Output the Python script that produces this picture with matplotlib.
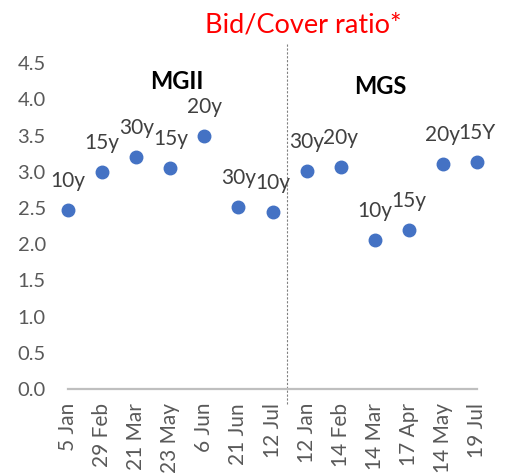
import matplotlib.pyplot as plt
import numpy as np

# auction dates, MGII first then MGS
dates = ['5 Jan', '29 Feb', '21 Mar', '23 May', '6 Jun', '21 Jun', '12 Jul',
         '12 Jan', '14 Feb', '14 Mar', '17 Apr', '14 May', '19 Jul']
bid_cover = [2.47, 3.00, 3.21, 3.05, 3.49, 2.52, 2.44,
             3.01, 3.07, 2.06, 2.19, 3.11, 3.13]
tenors = ['10y', '15y', '30y', '15y', '20y', '30y', '10y',
          '30y', '20y', '10y', '15y', '20y', '15Y']
yticks = [0.0, 0.5, 1.0, 1.5, 2.0, 2.5, 3.0, 3.5, 4.0, 4.5]

plt.rcParams['font.family'] = ['Lato', 'DejaVu Sans']

fig = plt.figure(figsize=(5.08, 4.75), dpi=100)
ax = fig.add_axes([0.134, 0.181, 0.805, 0.686])

x = np.arange(len(dates))
ax.plot(x, bid_cover, 'o', color='#4472C4', ms=9, clip_on=False, zorder=3)

for xi, yi, t in zip(x, bid_cover, tenors):
    ax.annotate(t, (xi, yi), xytext=(0, 29), textcoords='offset pixels',
                ha='center', va='center', fontsize=15, color='#404040',
                annotation_clip=False)

# divider between the two programmes
ax.plot([6.43, 6.43], [-0.2, 4.78], color='#808080', lw=0.8, ls=(0, (2, 1.5)),
        clip_on=False)

ax.text(3.2, 4.25, 'MGII', ha='center', va='center', fontsize=17,
        fontweight='bold', color='black')
ax.text(9.15, 4.18, 'MGS', ha='center', va='center', fontsize=17,
        fontweight='bold', color='black')
fig.text(0.597, 0.948, 'Bid/Cover ratio*', ha='center', va='center',
         fontsize=19.5, color='#FF0000')

ax.set_xlim(0, 12)
ax.set_ylim(0, 4.5)
ax.set_yticks(yticks)
ax.set_yticklabels([f'{v:.1f}' for v in yticks])
ax.set_xticks(x)
ax.set_xticklabels(dates, rotation=90)
ax.tick_params(axis='both', length=0, labelsize=14.5, colors='#595959')
ax.tick_params(axis='x', labelsize=15, pad=10)
ax.tick_params(axis='y', pad=16)

for side in ['top', 'right', 'left']:
    ax.spines[side].set_visible(False)
ax.spines['bottom'].set_color('#BFBFBF')
ax.spines['bottom'].set_linewidth(1.6)

fig.savefig('out.png', dpi=100)
